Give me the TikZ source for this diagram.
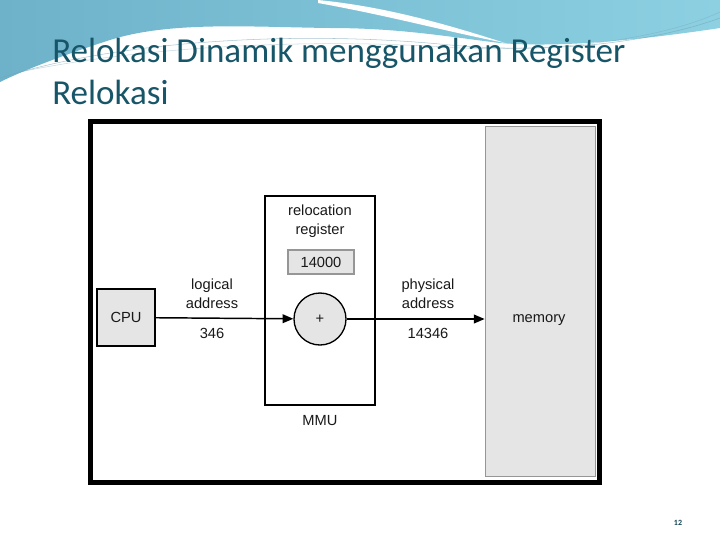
\documentclass[tikz,border=0pt]{standalone}
\usepackage{fontspec}
\setmainfont{Liberation Sans}
\newfontfamily\titlefont{Carlito}
\usetikzlibrary{arrows.meta, positioning, calc}
\definecolor{titleteal}{RGB}{23, 86, 104}
\definecolor{waveteal}{RGB}{110, 178, 202}
\definecolor{wavecyan}{RGB}{140, 208, 226}
\definecolor{boxgray}{RGB}{229, 229, 229}
\definecolor{memborder}{RGB}{150, 150, 150}

\begin{document}
\begin{tikzpicture}[x=0.75pt, y=-0.75pt,
  box/.style={draw=black, line width=1pt, fill=boxgray, inner sep=0pt},
  lbl/.style={font=\fontsize{11}{14.25}\selectfont, text=black!90, align=center},
  link/.style={line width=1.1pt, -{Triangle[length=8pt, width=6.5pt]}}]
  \useasboundingbox (0,0) rectangle (720,540);
  \fill[white] (0,0) rectangle (720,540);

  % ===== Hintergrund-Welle =====
  \shade[left color=waveteal, right color=wavecyan] (0,0) -- (720,0) -- (720,28)
    .. controls (640,40) and (560,48) .. (500,43)
    .. controls (450,37) and (400,28) .. (330,28)
    .. controls (250,27) and (170,21) .. (110,40)
    .. controls (60,56) and (20,72) .. (0,82) -- cycle;
  \fill[white] (318,0) .. controls (380,6) and (440,22) .. (505,43)
    .. controls (440,30) and (390,16) .. (318,3) -- cycle;
  \draw[waveteal!70!gray, opacity=0.6, thin] (0,78) .. controls (120,40) and (300,30) .. (450,45) .. controls (560,55) and (660,40) .. (720,18);
  \draw[waveteal!70!gray, opacity=0.4, thin] (20,72) .. controls (150,45) and (320,38) .. (460,48) .. controls (580,52) and (670,35) .. (720,12);

  % ===== Titel =====
  \node[anchor=base west, inner sep=0pt, font=\titlefont\fontsize{26.3}{31.5}\selectfont, text=titleteal] (title1) at (52,62) {Relokasi Dinamik menggunakan Register};
  \node[anchor=base west, inner sep=0pt, font=\titlefont\fontsize{26.3}{31.5}\selectfont, text=titleteal] (title2) at (52,104) {Relokasi};

  % ===== Rahmen =====
  \draw[line width=3.75pt] (90.5,121.5) rectangle (599.5,482.5);

  % ===== Speicher =====
  \node[draw=memborder, fill=boxgray, line width=0.8pt, minimum width=83pt, minimum height=263pt] (mem) at (540.5,301.5) {};
  \node[lbl] (memlbl) at (539,320) {memory};

  % ===== CPU =====
  \node[box, lbl, minimum width=43.5pt, minimum height=42.75pt] (cpu) at (126,317.5) {CPU};

  % ===== MMU =====
  \node[draw=black, line width=1pt, minimum width=82.5pt, minimum height=156.75pt] (mmu) at (320,300.5) {};
  \node[lbl] (mmulbl) at (320,421) {MMU};
  \node[lbl] (reglbl) at (320,221.5) {relocation\\register};
  \node[draw=memborder, fill=boxgray, lbl, line width=0.8pt, minimum width=49.5pt, minimum height=18pt] (reg) at (321,262) {14000};
  \node[circle, draw=black, fill=boxgray, line width=1pt, minimum size=39pt, inner sep=0pt, lbl] (adder) at (320,319) {+};

  % ===== Verbindungen =====
  \draw[link] (cpu) -- (adder);
  \draw[link] (adder) -- (adder -| mem.west);

  % ===== Adressen =====
  \node[lbl] (logaddr) at (212,293.5) {logical\\address};
  \node[lbl] (logval) at (212,333) {346};
  \node[lbl] (physaddr) at (428,293.5) {physical\\address};
  \node[lbl] (physval) at (428,333) {14346};

  % Seitenzahl
  \node[font=\titlefont\bfseries\fontsize{6}{7}\selectfont, text=titleteal!80!black] (pagenum) at (678,523) {12};
\end{tikzpicture}
\end{document}
